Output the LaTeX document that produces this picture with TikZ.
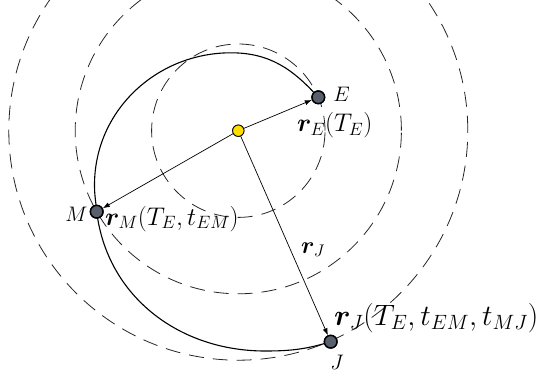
\documentclass[tikz,border=0pt]{standalone}
\usepackage{fix-cm}
\usepackage{bm}
\usetikzlibrary{arrows.meta}
\definecolor{planetfill}{RGB}{88,96,110}
\definecolor{sunfill}{RGB}{255,221,0}
\tikzset{
  planet/.style={circle,draw=black,line width=1.4pt,fill=planetfill,minimum size=12.6pt,inner sep=0pt},
  sun/.style={circle,draw=black,line width=0.8pt,fill=sunfill,minimum size=11.4pt,inner sep=0pt},
  orbit/.style={dash pattern=on 15pt off 9pt,line width=0.8pt,black!85},
  traj/.style={line width=1.1pt,black},
  radvec/.style={line width=0.7pt,-{Latex[length=7pt,width=5pt]}},
  lbl/.style={inner sep=0pt,font=\fontsize{25.5}{27}\selectfont},
  midlbl/.style={inner sep=0pt,font=\fontsize{24}{26}\selectfont},
  biglbl/.style={inner sep=0pt,font=\fontsize{29.5}{32}\selectfont},
  letter/.style={inner sep=0pt,font=\fontsize{21}{23}\selectfont}
}
\begin{document}
\begin{tikzpicture}[x=1pt,y=1pt]
\useasboundingbox (0,0) rectangle (542,-372);
\coordinate (S0) at (238.3,-130.7);
\begin{scope}
\clip (0,0) rectangle (542,-372);
\draw[orbit] (S0) circle[radius=86.7];
\draw[orbit] (S0) circle[radius=163.1];
\draw[orbit] (S0) circle[radius=229.5];
\end{scope}
% nodes
\node[sun] (S) at (S0) {};
\node[planet] (E) at (318.3,-97.3) {};
\node[planet] (M) at (96.7,-211.7) {};
\node[planet] (J) at (330.7,-341.7) {};
% trajectory waypoints
\coordinate (T1) at (231,-52.8);
\coordinate (L1) at (94.5,-185);
\coordinate (B1) at (265,-351);
\draw[traj] (E.center) to[out=132,in=0] (T1) to[out=180,in=90] (L1)
  to[out=-90,in=95] (M.center) to[out=-83,in=180] (B1) to[out=0,in=197] (J.center);
% redraw planets on top
\node[sun] at (S) {};
\node[planet] at (E) {};
\node[planet] at (M) {};
\node[planet] at (J) {};
% radius vectors
\draw[radvec] (S) -- (E);
\draw[radvec] (S) -- (M);
\draw[radvec] (S) -- (J);
% labels
\node[letter] (lE) at (341.5,-94) {$E$};
\node[letter] (lM) at (76.5,-214) {$M$};
\node[letter] (lJ) at (337,-362) {$J$};
\node[lbl,anchor=base west] (rE) at (297,-131.7) {$\bm{r}_E(T_E)$};
\node[lbl,anchor=base west] (rM) at (105,-225) {$\bm{r}_M(T_E,t_{EM})$};
\node[midlbl,anchor=base west] (rJm) at (301,-253) {$\bm{r}_J$};
\node[biglbl,anchor=base west] (rJ) at (334,-325) {$\bm{r}_J(T_E,t_{EM},t_{MJ})$};
\end{tikzpicture}
\end{document}
